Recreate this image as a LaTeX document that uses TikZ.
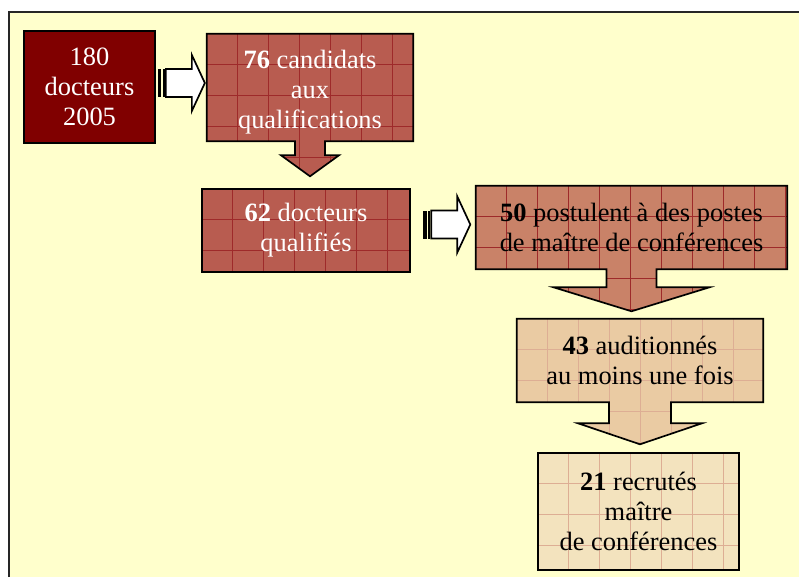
\documentclass[tikz,border=0pt]{standalone}
\usepackage{fontspec}
\setmainfont{Liberation Serif}
\usepackage{xcolor}
\usepackage{tikz}
\usetikzlibrary{calc, backgrounds}
\definecolor{framecream}{HTML}{FFFFCC}
\definecolor{phdmaroon}{HTML}{800000}
\definecolor{qualred}{HTML}{B85C50}
\definecolor{postrose}{HTML}{C98268}
\definecolor{auditsand}{HTML}{EACBA3}
\definecolor{recrutbeige}{HTML}{F3E3BE}
\definecolor{gridred}{HTML}{9E2A2A}
\definecolor{gridpale}{HTML}{DDAE94}
\tikzstyle{gridstrong} = [path picture={\draw[gridred, line width=0.5pt,
  shift={(path picture bounding box.north west)}] (0,0) grid[step=0.775cm] (330,180);}]
\tikzstyle{gridfaint} = [path picture={\draw[gridpale, line width=0.5pt,
  shift={(path picture bounding box.north west)}] (0,0) grid[step=0.775cm] (330,180);}]
\tikzstyle{boxtext} = [rectangle, align=center, inner sep=0pt, font=\fontsize{18.8}{21.3}\selectfont]
\tikzstyle{phdbox} = [boxtext, draw=black, line width=1.2pt, fill=phdmaroon, text=white]
\tikzstyle{callout} = [draw=black, line width=1.2pt, line join=miter]
\tikzstyle{stripearrow} = [draw=black, line width=1.2pt, fill=white, line join=miter]

\begin{document}
\begin{tikzpicture}[x=0.025cm, y=-0.025cm]
  \useasboundingbox (0,0) rectangle (799,577);
  \begin{scope}[on background layer]
    \fill[framecream] (9,12) rectangle (799,577);
    \draw[line width=1.6pt, black!85] (9,577) -- (9,12) -- (799,12);
  \end{scope}

  \node (phd)   [phdbox, minimum width=3.275cm, minimum height=2.8cm] at (89.5,87) {180\\docteurs\\2005};
  \node (cand)  [boxtext, minimum width=5.15cm, minimum height=2.675cm] at (310,87.5) {};
  \node (candtext) [boxtext, text=white] at ($(cand.center)+(0,5)$) {\textbf{76} candidats\\aux\\qualifications};
  \node (qual)  [boxtext, text=white, minimum width=5.2cm, minimum height=2.075cm] at (306,230.5)
    {\textbf{62} docteurs\\qualifiés};
  \node (post)  [boxtext, text=black, minimum width=7.775cm, minimum height=2.075cm] at (631.5,227.5)
    {\textbf{50} postulent à des postes\\de maître de conférences};
  \node (audit) [boxtext, text=black, minimum width=6.15cm, minimum height=2.075cm] at (640,360.5)
    {\textbf{43} auditionnés\\au moins une fois};
  \node (recr)  [boxtext, text=black, minimum width=5.025cm, minimum height=2.925cm] at (638.5,511.5)
    {\textbf{21} recrutés\\maître\\de conférences};

  % boxes, with their down arrows
  \begin{scope}[on background layer]
    \draw[callout, fill=qualred, gridstrong] (cand.north west) -- (cand.north east) -- (cand.south east)
      -- ($(cand.south)+(15,0)$) -- ++(0,14) -- ++(14,0) -- ($(cand.south)+(0,35)$)
      -- ($(cand.south)+(-29,14)$) -- ++(14,0) -- ++(0,-14) -- (cand.south west) -- cycle;
    \draw[callout, fill=qualred, gridstrong] (qual.north west) rectangle (qual.south east);
    \draw[callout, fill=postrose, gridstrong] (post.north west) -- (post.north east) -- (post.south east)
      -- ($(post.south)+(25,0)$) -- ++(0,18) -- ++(53,0) -- ($(post.south)+(0,42)$)
      -- ($(post.south)+(-78,18)$) -- ++(53,0) -- ++(0,-18) -- (post.south west) -- cycle;
    \draw[callout, fill=auditsand, gridfaint] (audit.north west) -- (audit.north east) -- (audit.south east)
      -- ($(audit.south)+(31,0)$) -- ++(0,21) -- ++(31,0) -- ($(audit.south)+(0,42)$)
      -- ($(audit.south)+(-62,21)$) -- ++(31,0) -- ++(0,-21) -- (audit.south west) -- cycle;
    \draw[callout, fill=recrutbeige, gridfaint] (recr.north west) rectangle (recr.south east);
  \end{scope}

  % striped white arrows
  \coordinate (s1) at ($(phd.east)+(2,-4)$);
  \fill ($(s1)+(0,-14)$) rectangle ++(3.5,28);
  \fill ($(s1)+(5,-14)$) rectangle ++(2,28);
  \draw[stripearrow] ($(s1)+(8,-14)$) -- ++(26,0) -- ++(0,-14) -- ++(13,28) -- ++(-13,28) -- ++(0,-14) -- ++(-26,0) -- cycle;

  \coordinate (s2) at ($(qual.east)+(13,-6)$);
  \fill ($(s2)+(0,-14)$) rectangle ++(3.5,28);
  \fill ($(s2)+(5,-14)$) rectangle ++(2,28);
  \draw[stripearrow] ($(s2)+(8,-14)$) -- ++(26,0) -- ++(0,-14) -- ++(13,28) -- ++(-13,28) -- ++(0,-14) -- ++(-26,0) -- cycle;
\end{tikzpicture}
\end{document}
